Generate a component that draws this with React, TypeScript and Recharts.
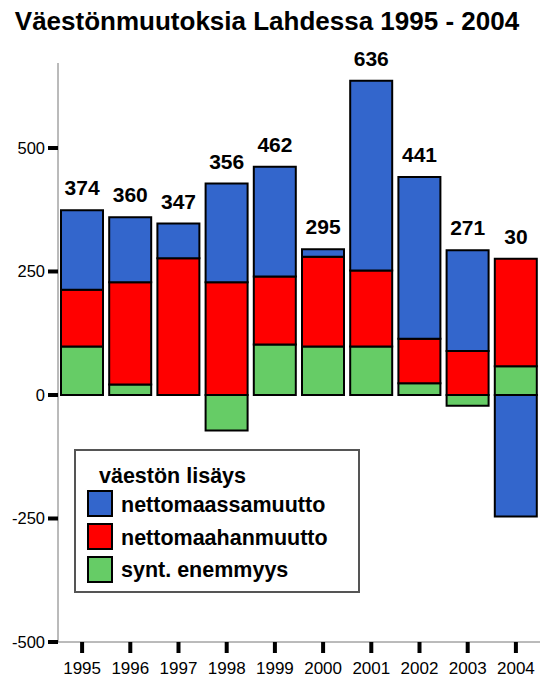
import React from "react";
import { ComposedChart, Bar, Line, XAxis, YAxis, LabelList } from "recharts";

const years = ["1995", "1996", "1997", "1998", "1999", "2000", "2001", "2002", "2003", "2004"];
// synt. enemmyys (births minus deaths)
const births = [98, 21, 0, -72, 102, 98, 98, 24, -22, 58];
// nettomaahanmuutto (net immigration)
const immigration = [115, 207, 277, 228, 138, 182, 154, 90, 89, 218];
// nettomaassamuutto (net internal migration)
const internal = [161, 132, 70, 200, 222, 15, 384, 327, 204, -246];
// labels printed above bars
const totals = [374, 360, 347, 356, 462, 295, 636, 441, 271, 30];
const yTicks = [-500, -250, 0, 250, 500];

const series = [
  { key: "internal", name: "nettomaassamuutto", color: "#3366CC" },
  { key: "immigration", name: "nettomaahanmuutto", color: "#FF0000" },
  { key: "births", name: "synt. enemmyys", color: "#66CC66" },
];

const data = years.map((year, i) => ({
  year,
  births: births[i],
  immigration: immigration[i],
  internal: internal[i],
  total: totals[i],
  top: Math.max(births[i], 0) + Math.max(immigration[i], 0) + Math.max(internal[i], 0),
}));

const font = "'Liberation Sans', Arial, sans-serif";
const frame = "#777";

const XTick = (props: any) => {
  const { x, y, payload } = props;
  return (
    <text x={x} y={y} dy={12} textAnchor="middle" fontSize={17} fontFamily={font} fill="#000">
      {payload.value}
    </text>
  );
};

const YTick = (props: any) => {
  const { x, y, payload } = props;
  return (
    <text x={x} y={y} dy={6} textAnchor="end" fontSize={16.5} fontFamily={font} fill="#000">
      {payload.value}
    </text>
  );
};

export default function App() {
  return (
    <div style={{ position: "absolute", left: 0, top: 0, width: 543, height: 679, background: "#fff" }}>
      <ComposedChart
        width={543}
        height={679}
        data={data}
        stackOffset="sign"
        margin={{ top: 63, right: 3, bottom: 0, left: 0 }}
        style={{ fontFamily: font }}
      >
        <XAxis
          dataKey="year"
          height={37}
          axisLine={{ stroke: frame, strokeWidth: 1 }}
          tickLine={{ stroke: "#000", strokeWidth: 4 }}
          tickSize={11}
          tickMargin={9}
          tick={<XTick />}
          interval={0}
        />
        <XAxis
          xAxisId="top"
          dataKey="year"
          orientation="top"
          height={0}
          tick={false}
          tickLine={false}
          axisLine={{ stroke: frame, strokeWidth: 1 }}
        />
        <YAxis
          width={58}
          domain={[-500, 672]}
          ticks={yTicks}
          allowDataOverflow
          axisLine={{ stroke: frame, strokeWidth: 1 }}
          tickLine={{ stroke: "#000", strokeWidth: 4 }}
          tickSize={10}
          tickMargin={3}
          tick={<YTick />}
        />
        <YAxis
          yAxisId="right"
          orientation="right"
          width={0}
          domain={[-500, 672]}
          tick={false}
          tickLine={false}
          axisLine={{ stroke: frame, strokeWidth: 1 }}
        />
        <Bar dataKey="births" stackId="a" fill="#66CC66" stroke="#000" strokeWidth={2} barSize={42} isAnimationActive={false} />
        <Bar dataKey="immigration" stackId="a" fill="#FF0000" stroke="#000" strokeWidth={2} barSize={42} isAnimationActive={false} />
        <Bar dataKey="internal" stackId="a" fill="#3366CC" stroke="#000" strokeWidth={2} barSize={42} isAnimationActive={false} />
        <Line dataKey="top" stroke="none" dot={false} activeDot={false} isAnimationActive={false}>
          <LabelList
            dataKey="total"
            position="top"
            offset={15}
            fill="#000"
            style={{ fontSize: 21, fontWeight: 700, fontFamily: font }}
          />
        </Line>
      </ComposedChart>

      {/* title + legend overlay */}
      <svg width={543} height={679} style={{ position: "absolute", left: 0, top: 0, pointerEvents: "none" }}>
        <text x={267} y={29.5} textAnchor="middle" fontSize={26} fontWeight={700} fontFamily={font} fill="#000">
          Väestönmuutoksia Lahdessa 1995 - 2004
        </text>
        <rect x={75} y={450} width={284} height={142} fill="#fff" stroke="#555" strokeWidth={2} />
        <text x={99} y={483} fontSize={21.5} fontWeight={700} fontFamily={font} fill="#000">
          väestön lisäys
        </text>
        {series.map((s, i) => (
          <g key={s.key}>
            <rect x={88} y={491 + i * 33} width={24} height={25} fill={s.color} stroke="#000" strokeWidth={2} />
            <text x={121} y={512 + i * 32.5} fontSize={21.5} fontWeight={700} fontFamily={font} fill="#000">
              {s.name}
            </text>
          </g>
        ))}
      </svg>
    </div>
  );
}
